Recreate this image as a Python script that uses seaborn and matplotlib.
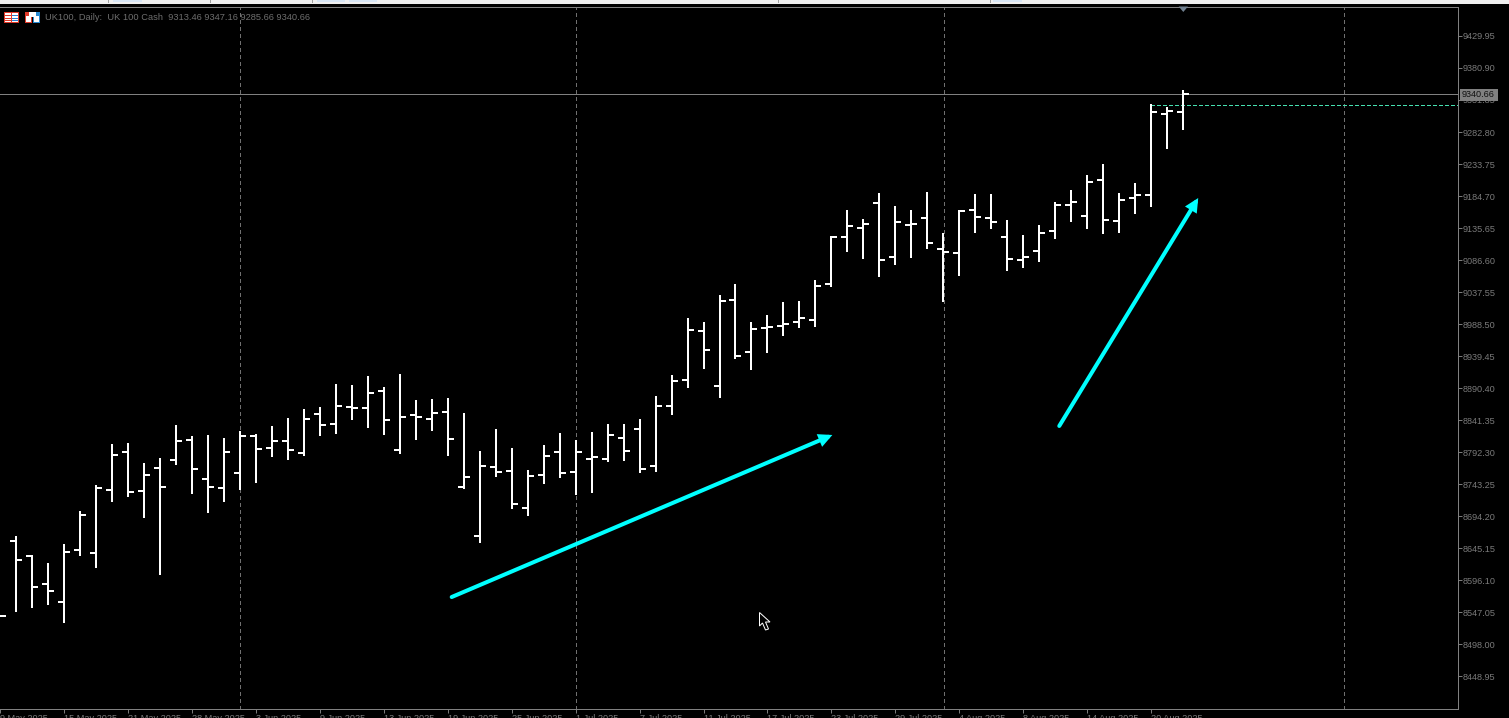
import matplotlib
matplotlib.use("Agg")
import matplotlib.pyplot as plt
from matplotlib.patches import Rectangle, Polygon
import pandas as pd
import seaborn as sns

opens = [8540.9,8655.9,8632.9,8590.0,8562.4,8642.1,8637.5,8734.1,8792.3,8732.5,8767.8,8780.0,8810.7,8750.9,8737.1,8760.1,8816.8,8798.4,8809.2,8790.8,8850.6,8835.2,8861.3,8859.8,8885.8,8795.4,8849.0,8842.9,8853.6,8738.7,8663.6,8769.3,8763.2,8706.5,8757.1,8792.3,8761.7,8781.6,8781.6,8813.8,8827.6,8770.9,8862.8,8902.7,8977.8,8893.5,9025.3,8945.6,8982.4,8985.4,8991.6,8994.6,9049.8,9121.9,9135.7,9174.0,9091.2,9140.3,9151.0,9103.5,9097.3,9163.2,9151.0,9121.9,9086.6,9100.4,9131.1,9170.9,9154.1,9209.2,9146.4,9181.6,9186.2,9310.4,9313.46]
highs = [8540.9,8663.6,8634.4,8622.2,8651.3,8701.9,8741.7,8804.6,8806.1,8775.4,8783.1,8833.7,8816.8,8818.4,8813.8,8824.5,8819.9,8832.2,8844.4,8858.2,8861.3,8896.5,8895.0,8908.8,8891.9,8911.9,8872.0,8873.5,8875.1,8852.1,8793.8,8827.6,8798.4,8764.7,8803.0,8821.4,8810.7,8823.0,8835.2,8835.2,8842.9,8878.1,8910.3,8997.7,8991.6,9033.0,9049.8,8991.6,9002.3,9022.2,9023.8,9056.0,9123.4,9163.2,9149.5,9189.3,9169.4,9163.2,9190.8,9128.0,9163.2,9187.8,9187.8,9147.9,9124.9,9140.3,9175.5,9193.9,9216.9,9233.8,9189.3,9204.6,9325.7,9321.1,9347.16]
lows = [8540.9,8547.1,8553.2,8557.8,8530.2,8632.9,8614.5,8715.7,8723.3,8691.1,8603.8,8772.4,8727.9,8698.8,8715.7,8734.1,8744.8,8784.6,8780.0,8786.2,8816.8,8819.9,8841.4,8829.1,8818.4,8789.2,8810.7,8824.5,8786.2,8735.6,8652.8,8754.0,8704.9,8694.2,8743.3,8752.5,8726.4,8729.5,8777.0,8778.5,8760.1,8761.7,8849.0,8890.4,8919.5,8875.1,8934.9,8918.0,8944.1,8970.1,8982.4,8983.9,9045.2,9098.9,9088.1,9060.5,9078.9,9089.7,9103.5,9022.2,9062.1,9128.0,9134.1,9069.7,9074.3,9083.5,9118.8,9144.9,9134.1,9126.5,9128.0,9157.1,9167.8,9256.7,9285.66]
closes = [8540.9,8626.8,8585.4,8579.3,8639.0,8695.7,8737.1,8787.7,8731.0,8757.1,8738.7,8809.2,8766.3,8738.7,8792.3,8816.8,8796.9,8809.2,8795.4,8842.9,8833.7,8862.8,8859.8,8882.7,8841.4,8846.0,8846.0,8852.1,8812.2,8754.0,8770.9,8761.7,8712.6,8755.5,8786.2,8760.1,8792.3,8784.6,8818.4,8793.8,8766.3,8862.8,8901.1,8979.3,8948.7,9023.8,8939.5,8980.8,8983.9,8988.5,8997.7,9046.8,9121.9,9138.7,9141.8,9086.6,9144.9,9141.8,9112.7,9098.9,9161.7,9152.5,9144.9,9088.1,9091.2,9128.0,9170.9,9175.5,9206.2,9147.9,9178.6,9186.2,9313.5,9315.0,9340.66]

price_ticks = [9429.95,9380.90,9331.85,9282.80,9233.75,9184.70,9135.65,9086.60,9037.55,8988.50,8939.45,8890.40,8841.35,8792.30,8743.25,8694.20,8645.15,8596.10,8547.05,8498.00,8448.95]
date_labels = ["9 May 2025","15 May 2025","21 May 2025","28 May 2025","3 Jun 2025","9 Jun 2025","13 Jun 2025","19 Jun 2025","25 Jun 2025","1 Jul 2025","7 Jul 2025","11 Jul 2025","17 Jul 2025","23 Jul 2025","29 Jul 2025","4 Aug 2025","8 Aug 2025","14 Aug 2025","20 Aug 2025"]
date_bars = list(range(0, 76, 4))
month_bars = [15.03, 36.03, 59.03, 84.03]
last_price = 9340.66
level_price = 9323.7
level_start = 72
arrow_a = ((28.25, 8570.0), (52.06, 8818.4))
arrow_b = ((66.25, 8832.2), (74.94, 9181.6))
header = "UK100, Daily:  UK 100 Cash  9313.46 9347.16 9285.66 9340.66"

W, H = 1509, 718
GRAY = "#7a7a7a"
sns.set_theme(style="dark", rc={"axes.facecolor": "black", "figure.facecolor": "black"})
plt.rcParams["font.family"] = ["Liberation Sans", "DejaVu Sans"]

fig = plt.figure(figsize=(W / 100, H / 100), dpi=100)
ax = fig.add_axes([0, 1 - 708.5 / H, 1457.5 / W, 702 / H])

# segments of each OHLC bar
rows = []
tick = 0.375
for i, (o, h, l, c) in enumerate(zip(opens, highs, lows, closes)):
    for name, pts in (("s", [(i, l), (i, h)]),
                      ("o", [(i - tick, o), (i, o)]),
                      ("c", [(i, c), (i + tick, c)])):
        for x, y in pts:
            rows.append({"seg": f"{i}{name}", "bar": x, "price": y})
segs = pd.DataFrame(rows)

ax.set_xlim(1 / 16, 1458.5 / 16)
ax.set_ylim(9485.13 - 1.5328 * 708.5, 9485.13 - 1.5328 * 6.5)

for m in month_bars:
    ax.axvline(m, color="#707070", lw=0.72, dashes=(3, 3), antialiased=False, zorder=1)
ax.axhline(last_price, color="#808080", lw=0.6, antialiased=False, zorder=1)
ax.plot([level_start, 92], [level_price, level_price], color="#45e0b0", lw=0.72,
        dashes=(3, 2.5), antialiased=False, zorder=1)

sns.lineplot(data=segs, x="bar", y="price", units="seg", estimator=None, sort=False,
             color="white", lw=1.44, legend=False, ax=ax, antialiased=False,
             solid_capstyle="butt", zorder=3)

for (a, b) in (arrow_a, arrow_b):
    ax.annotate("", xy=b, xytext=a, zorder=4, annotation_clip=False,
                arrowprops=dict(arrowstyle="-|>,head_length=0.45,head_width=0.22",
                                mutation_scale=12, lw=2.9, color="#00ffff",
                                shrinkA=0, shrinkB=0, joinstyle="miter"))

ax.grid(False)
ax.set_xlabel("")
ax.set_ylabel("")
ax.yaxis.tick_right()
ax.set_yticks(price_ticks)
ax.set_yticklabels([f"{p:.2f}" for p in price_ticks], fontsize=6.6, color=GRAY)
ax.set_xticks(date_bars)
ax.set_xticklabels(date_labels, fontsize=6.6, color=GRAY, ha="left")
ax.tick_params(axis="y", which="major", right=True, left=False, length=2.6, width=0.72,
               color=GRAY, pad=1.2)
ax.tick_params(axis="x", which="major", bottom=True, length=2.6, width=0.72, color=GRAY, pad=1.6)
ax.spines["left"].set_visible(False)
for s in ("right", "bottom", "top"):
    ax.spines[s].set_color("#808080")
    ax.spines[s].set_linewidth(0.72)


def box(x, y, w, h, color, z=6):
    fig.add_artist(Rectangle((x / W, 1 - (y + h) / H), w / W, h / H, transform=fig.transFigure,
                             facecolor=color, edgecolor="none", zorder=z))


# window chrome at the top
box(0, 0, W, 3.5, "#f0f0f0")
for x0, x1 in ((113, 142), (317, 345), (349, 377), (993, 1022)):
    box(x0, 0, x1 - x0, 2, "#d8e6f5", 7)
for x0 in (108, 210, 312, 778, 990):
    box(x0, 0, 1, 3, "#a0a0a0", 7)

# header icons
box(4, 12, 15, 11, "#e03a2a")
box(5, 13, 6, 9, "white", 7)
box(12, 13, 6, 9, "white", 7)
for yy in (15, 18, 20):
    box(5, yy, 6, 1, "#e03a2a", 8)
    box(12, yy, 6, 1, "#2a7fd0", 8)
box(25, 12, 7, 11, "#e03a2a")
box(26, 16, 5, 6, "white", 7)
box(33, 12, 7, 11, "#2a8ad0")
box(34, 16, 5, 6, "white", 7)
box(29, 12, 7, 5, "white", 8)

fig.text(45 / W, 1 - 17.5 / H, header, fontsize=6.7, color="#6e6e6e", va="center", ha="left", zorder=9)

# last price tag
box(1460, 89, 38, 11.5, "#808080", 8)
fig.text(1462 / W, 1 - 94.8 / H, f"{last_price:.2f}", fontsize=6.6, color="#101010",
         va="center", ha="left", zorder=9)

# shift marker and mouse pointer
tri = [(1178.7, 6.5), (1188, 6.5), (1183.3, 12)]
fig.add_artist(Polygon([(x / W, 1 - y / H) for x, y in tri], transform=fig.transFigure,
                       facecolor="#708090", edgecolor="none", zorder=9))
cur = [(759.5, 612.5), (759.5, 626), (762.5, 623), (765.5, 630), (768.5, 629), (765.5, 622), (770, 622)]
fig.add_artist(Polygon([(x / W, 1 - y / H) for x, y in cur], transform=fig.transFigure,
                       facecolor="black", edgecolor="white", lw=0.72, zorder=9))

fig.savefig("out.png", dpi=100, facecolor="black")
